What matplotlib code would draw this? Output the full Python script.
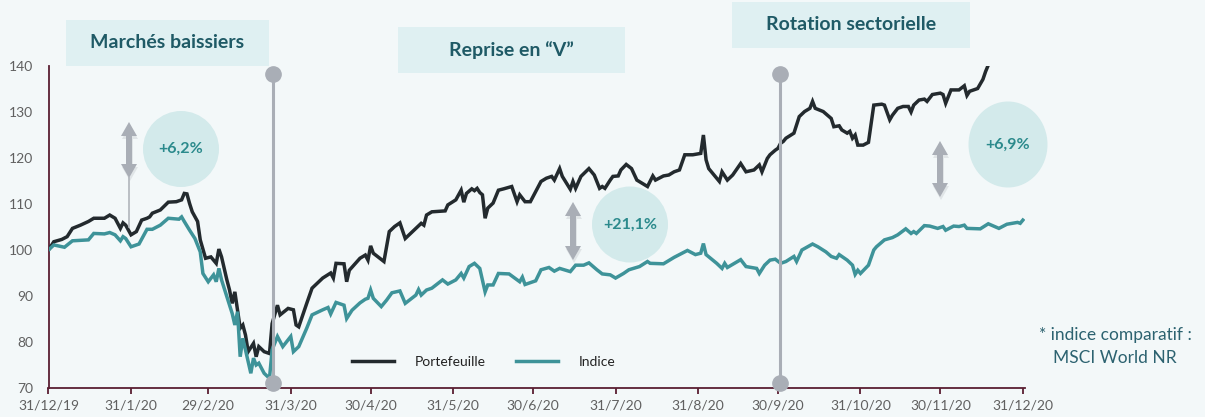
"""
Portefeuille vs indice, performance 2020 (base 100).
"""

# Imports
import matplotlib.pyplot as plt
import matplotlib.patches as mpatches
from matplotlib.lines import Line2D
import pandas as pd


# Data (days since 31/12/19, base 100)
START = pd.Timestamp('2019-12-31')

pf_days = [0, 2, 5, 7, 9, 12, 15, 17, 21, 23, 25, 27, 28, 29, 31, 33, 35, 37, 38, 39,
           42, 45, 48, 50, 51, 52, 53, 54, 56, 57, 59, 61, 63, 64, 65, 67, 68, 69, 70, 71,
           72, 73, 74, 75, 77, 78, 79, 81, 83, 84, 86, 87, 90, 92, 93, 94, 97, 99, 103, 106,
           107, 108, 111, 112, 113, 117, 119, 120, 121, 122, 126, 128, 130, 132, 134, 138, 140, 141, 142, 144,
           149, 150, 153, 155, 156, 157, 159, 160, 161, 162, 163, 164, 165, 167, 169, 171, 174, 176, 177, 179,
           181, 183, 185, 187, 189, 190, 192, 193, 196, 197, 198, 200, 203, 205, 207, 208, 209, 211, 212, 214,
           215, 217, 219, 221, 223, 225, 227, 228, 231, 233, 235, 237, 239, 242, 245, 246, 247, 248, 250, 252,
           253, 255, 257, 260, 262, 265, 267, 268, 270, 271, 273, 274, 275, 276, 277, 280, 281, 282, 284, 286,
           287, 288, 291, 294, 295, 297, 298, 300, 301, 302, 303, 304, 306, 308, 310, 313, 314, 316, 317, 319,
           321, 323, 324, 325, 327, 329, 330, 332, 335, 336, 337, 339, 342, 344, 345, 346, 349, 351, 352, 353,
           357, 366]
pf_values = [100.0, 101.8, 102.3, 102.9, 104.7, 105.4, 106.2, 106.9, 106.9, 107.6, 106.9, 104.7, 105.9, 105.4, 103.3, 104.0, 106.5, 106.9, 107.2, 108.0,
             108.7, 110.4, 110.5, 110.9, 112.3, 112.2, 110.1, 108.3, 106.2, 102.2, 98.2, 98.5, 97.1, 100.2, 98.5, 93.5, 91.3, 88.4, 90.9, 87.0,
             83.0, 83.7, 81.5, 77.9, 79.7, 76.8, 79.0, 77.9, 77.5, 84.0, 88.0, 85.9, 87.3, 87.0, 83.7, 83.3, 88.4, 91.7, 93.9, 95.0,
             93.9, 97.1, 97.0, 93.1, 95.6, 98.2, 98.9, 97.8, 100.9, 99.3, 97.5, 104.0, 105.1, 105.9, 102.5, 104.7, 105.8, 105.4, 107.6, 108.3,
             108.5, 109.8, 110.9, 113.0, 110.4, 112.3, 113.3, 112.9, 113.4, 112.5, 112.0, 106.9, 109.1, 110.2, 113.0, 113.3, 113.8, 110.5, 112.0, 110.5,
             110.5, 112.7, 114.9, 115.6, 116.0, 115.2, 117.7, 116.0, 113.2, 114.9, 113.4, 116.0, 117.7, 116.3, 113.4, 113.8, 113.4, 115.2, 116.0, 116.1,
             117.4, 118.6, 117.7, 115.2, 114.5, 113.8, 116.1, 115.2, 116.1, 116.3, 117.0, 117.4, 120.7, 120.7, 121.0, 125.0, 119.6, 117.7, 116.3, 114.9,
             117.0, 115.2, 116.3, 118.8, 117.0, 117.4, 118.5, 117.0, 119.9, 120.7, 121.7, 122.1, 123.2, 123.6, 124.3, 125.4, 127.2, 129.0, 130.1, 130.8,
             132.3, 130.8, 130.1, 128.6, 126.8, 127.0, 126.1, 125.4, 125.8, 124.3, 125.0, 122.8, 122.8, 123.4, 131.5, 131.7, 131.5, 128.3, 129.3, 130.8,
             131.2, 131.2, 130.0, 131.5, 132.6, 132.8, 132.3, 133.8, 134.1, 133.8, 131.9, 134.8, 134.8, 135.7, 133.6, 134.5, 135.1, 137.1, 138.8, 140.2,
             142.5, 144.0]

idx_days = [0, 2, 6, 9, 15, 17, 21, 23, 25, 27, 28, 29, 31, 34, 37, 39, 42, 45, 49, 50,
            51, 53, 55, 57, 58, 60, 62, 63, 64, 65, 69, 70, 71, 72, 73, 74, 76, 77, 78, 79,
            81, 83, 84, 86, 88, 91, 92, 94, 97, 99, 103, 105, 106, 108, 111, 112, 114, 117, 119, 120,
            121, 122, 125, 127, 129, 132, 134, 138, 139, 140, 142, 144, 148, 150, 153, 155, 156, 158, 160, 162,
            164, 165, 167, 169, 173, 177, 178, 179, 183, 185, 188, 190, 192, 196, 198, 201, 203, 206, 208, 211,
            213, 216, 218, 222, 225, 226, 231, 235, 240, 243, 245, 246, 247, 251, 253, 254, 255, 260, 262, 266,
            267, 269, 271, 273, 275, 277, 280, 281, 283, 287, 289, 292, 294, 296, 297, 300, 302, 303, 304, 305,
            308, 310, 311, 314, 317, 319, 322, 324, 325, 326, 329, 331, 334, 336, 337, 340, 342, 344, 345, 350,
            353, 357, 360, 364, 365, 366]
idx_values = [100.0, 101.1, 100.6, 102.0, 102.2, 103.6, 103.5, 103.8, 103.3, 102.0, 102.9, 102.5, 100.7, 101.3, 104.5, 104.5, 105.4, 106.9, 106.7, 107.2,
              106.2, 104.3, 102.5, 99.6, 94.9, 93.1, 94.6, 93.1, 96.0, 93.5, 86.2, 83.7, 86.6, 76.8, 80.8, 78.3, 73.2, 76.5, 75.0, 75.4,
              73.2, 72.1, 78.3, 81.2, 79.0, 81.2, 77.9, 79.0, 83.0, 85.9, 87.0, 87.5, 86.1, 88.6, 88.0, 85.1, 86.9, 88.5, 89.3, 89.5,
              91.3, 89.5, 87.7, 89.1, 90.7, 91.1, 88.4, 90.2, 91.4, 90.2, 91.3, 91.7, 93.5, 92.6, 93.5, 94.9, 93.9, 96.4, 97.1, 96.0,
              90.9, 92.4, 92.4, 94.9, 94.8, 93.1, 94.1, 92.5, 93.3, 95.7, 96.2, 95.4, 96.0, 95.3, 96.7, 96.7, 97.2, 95.7, 94.8, 94.6,
              93.9, 94.9, 95.7, 96.4, 97.5, 97.1, 97.0, 98.4, 99.9, 99.0, 99.3, 101.4, 99.0, 97.1, 96.0, 97.1, 96.2, 97.9, 96.4, 96.0,
              94.9, 96.7, 97.8, 98.0, 97.1, 97.5, 98.6, 97.5, 100.0, 101.3, 100.7, 99.6, 98.6, 98.2, 99.0, 97.8, 96.7, 94.7, 95.6, 94.9,
              96.7, 100.0, 100.7, 102.2, 102.7, 103.3, 104.6, 103.6, 104.0, 103.6, 105.3, 105.2, 104.7, 105.1, 104.3, 105.2, 105.1, 105.4, 104.7, 104.6,
              105.7, 104.7, 105.6, 106.0, 105.8, 106.5]

tick_dates = ['2019-12-31', '2020-01-31', '2020-02-29', '2020-03-31', '2020-04-30', '2020-05-31',
              '2020-06-30', '2020-07-31', '2020-08-31', '2020-09-30', '2020-10-31', '2020-11-30',
              '2020-12-31']
tick_labels = ['31/12/19', '31/1/20', '29/2/20', '31/3/20', '30/4/20', '31/5/20', '30/6/20',
               '31/7/20', '31/8/20', '30/9/20', '31/10/20', '30/11/20', '31/12/20']

phase_titles = ['Marchés baissiers', 'Reprise en \u201cV\u201d', 'Rotation sectorielle']
phase_breaks = ['2020-03-24 12:00', '2020-09-30 16:00']
gaps = ['+6,2%', '+21,1%', '+6,9%']

# Colours
BG = '#f3f8f9'
BLACK = '#232a2e'
TEAL = '#3e9399'
GREY = '#a9aeb6'
AXIS = '#5a1e32'
DARK_TEAL = '#1f5a66'

W, H = 1205, 417

plt.rcParams['font.family'] = ['Lato', 'DejaVu Sans']


def fx(x):
    return x / W


def fy(y):
    return 1 - y / H


def double_arrow(ax, cx, top, bot, color=GREY):
    """Thick double-headed arrow, given in figure pixels."""
    hw, hl, sw = 8, 14, 3
    pts = [(cx, top), (cx + hw, top + hl), (cx + sw, top + hl), (cx + sw, bot - hl),
           (cx + hw, bot - hl), (cx, bot), (cx - hw, bot - hl), (cx - sw, bot - hl),
           (cx - sw, top + hl), (cx - hw, top + hl)]
    shadow = [(fx(x + 1), fy(y + 3)) for x, y in pts]
    ax.add_patch(mpatches.Polygon(shadow, closed=True, color='#8a9098', alpha=0.18, lw=0,
                                  transform=ax.figure.transFigure, clip_on=False, zorder=4))
    ax.add_patch(mpatches.Polygon([(fx(x), fy(y)) for x, y in pts], closed=True, color=color,
                                  lw=0, transform=ax.figure.transFigure, clip_on=False, zorder=5))


fig = plt.figure(figsize=(W / 100, H / 100), dpi=100, facecolor=BG)
ax = fig.add_axes([fx(48.5), fy(388), fx(1025) - fx(48.5), fy(66) - fy(388)])
ax.set_facecolor(BG)

pf_x = [START + pd.Timedelta(days=d) for d in pf_days]
idx_x = [START + pd.Timedelta(days=d) for d in idx_days]
ax.plot(pf_x, pf_values, color=BLACK, lw=2.5, label='Portefeuille', zorder=3,
        solid_joinstyle='miter')
ax.plot(idx_x, idx_values, color=TEAL, lw=2.5, label='Indice', zorder=3,
        solid_joinstyle='miter')

ax.set_xlim(START, START + pd.Timedelta(days=366.8))
ax.set_ylim(70, 140)
ax.set_yticks(range(70, 141, 10))
ax.set_xticks(pd.to_datetime(tick_dates))
ax.set_xticklabels(tick_labels)
ax.tick_params(axis='y', length=0, pad=11, labelsize=10, labelcolor='#606060')
ax.tick_params(axis='x', length=4, width=1.3, color=AXIS, pad=4, labelsize=10,
               labelcolor='#606060')
for side in ['top', 'right']:
    ax.spines[side].set_visible(False)
for side in ['left', 'bottom']:
    ax.spines[side].set_color(AXIS)
    ax.spines[side].set_linewidth(1.3)

# Phase separators
for d in phase_breaks:
    t = pd.Timestamp(d)
    ax.plot([t, t], [71.1, 138.3], color=GREY, lw=2.2, zorder=6, clip_on=False)
    ax.plot([t, t], [71.1, 138.3], 'o', color=GREY, ms=11, zorder=6, clip_on=False)

# Phase titles
boxes = [(66, 20, 269, 66), (398, 27, 625, 73), (732, 2, 970, 48)]
for (x0, y0, x1, y1), title in zip(boxes, phase_titles):
    ax.add_patch(mpatches.Rectangle((fx(x0), fy(y1)), fx(x1) - fx(x0), fy(y0) - fy(y1),
                                    color='#dff0f2', lw=0, transform=fig.transFigure,
                                    clip_on=False, zorder=1))
    ax.text(fx((x0 + x1) / 2), fy((y0 + y1) / 2), title, transform=fig.transFigure,
            ha='center', va='center', fontsize=14, fontweight='bold', color=DARK_TEAL,
            zorder=2)

# Performance gap bubbles
bubbles = [(181, 149, 38, 38), (630, 224.5, 38, 38), (1008, 144.5, 39.5, 43)]
for (cx, cy, rx, ry), label in zip(bubbles, gaps):
    ax.add_patch(mpatches.Ellipse((fx(cx), fy(cy)), 2 * rx / W, 2 * ry / H, color='#d3eaeb',
                                  lw=0, transform=fig.transFigure, clip_on=False, zorder=1))
    ax.text(fx(cx), fy(cy), label, transform=fig.transFigure, ha='center', va='center',
            fontsize=11.5, fontweight='bold', color='#2b8a8c', zorder=2)

double_arrow(ax, 129, 122, 178)
double_arrow(ax, 573, 202, 260)
double_arrow(ax, 940, 141, 197)
ax.add_line(Line2D([fx(129), fx(129)], [fy(178), fy(227)], color='#b0b5bb', lw=1.2,
                   transform=fig.transFigure, clip_on=False, zorder=4))

# Legend
ax.legend(loc='center left', bbox_to_anchor=(fx(352), fy(362)), bbox_transform=fig.transFigure,
          ncol=2, frameon=False, handlelength=3.0, handletextpad=1.5, columnspacing=2.2,
          borderpad=0, borderaxespad=0, fontsize=10, labelcolor='#222222')

fig.text(fx(1115), fy(335), '* indice comparatif :', ha='center', va='center', fontsize=12.5,
         color='#2c6270')
fig.text(fx(1115), fy(358), 'MSCI World NR', ha='center', va='center', fontsize=12.5,
         color='#2c6270')

fig.savefig('out.png', dpi=100, facecolor=BG)
